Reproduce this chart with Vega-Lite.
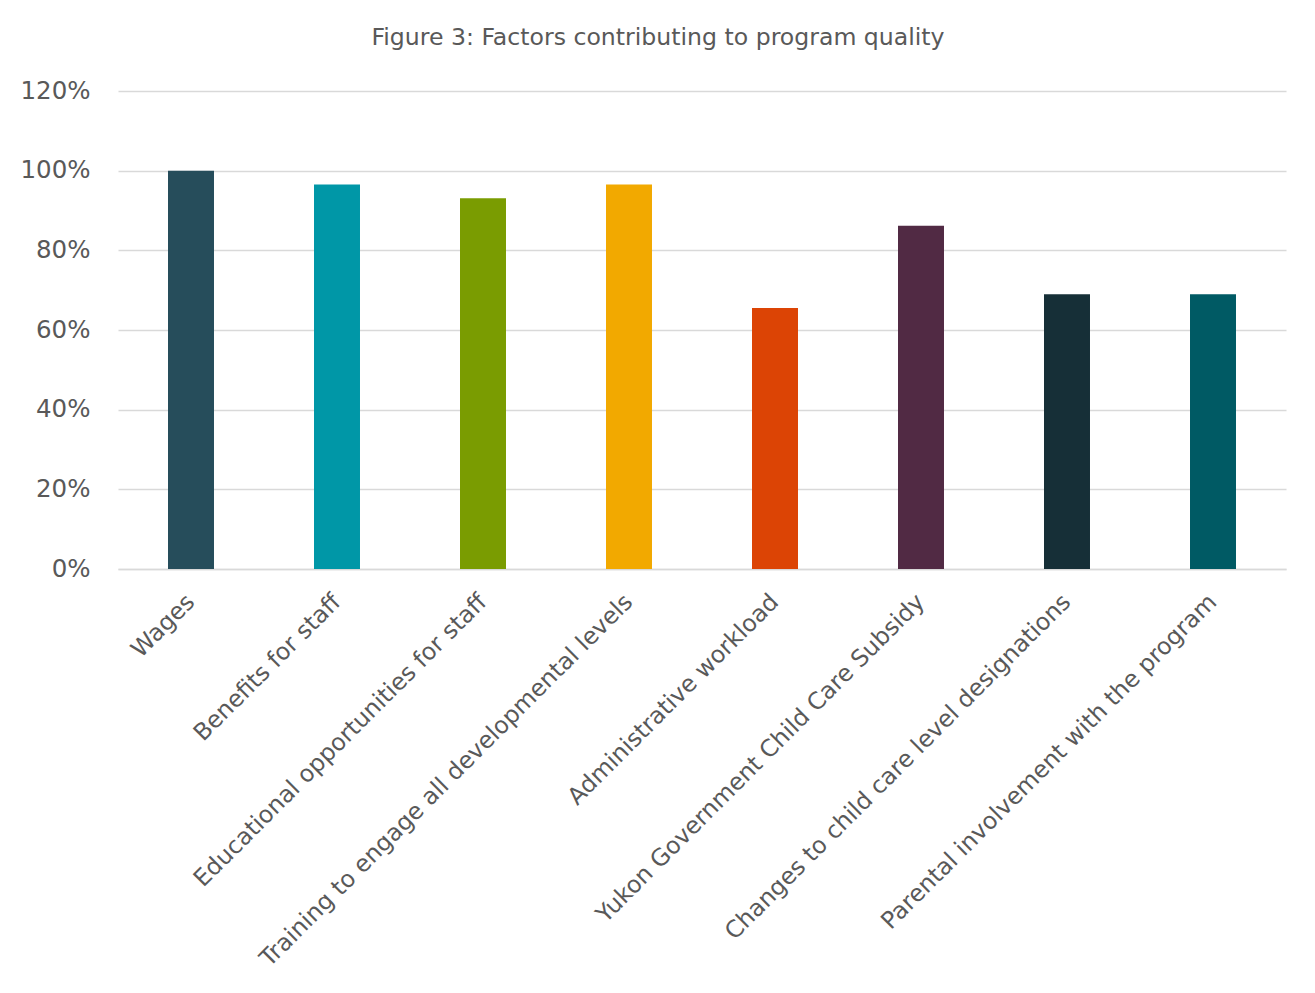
{
  "$schema": "https://vega.github.io/schema/vega-lite/v6.json",
  "width": 1168,
  "height": 478,
  "autosize": {"type": "none"},
  "padding": {"left": 118, "top": 91, "right": 29, "bottom": 424},
  "background": "white",
  "title": {
    "text": "Figure 3: Factors contributing to program quality",
    "anchor": "middle",
    "frame": "group",
    "dx": -44,
    "offset": 28,
    "font": "DejaVu Sans",
    "fontSize": 23.6,
    "fontWeight": "normal",
    "color": "#595959"
  },
  "data": {
    "values": [
      {"factor": "Wages", "share": 1.0},
      {"factor": "Benefits for staff", "share": 0.9655},
      {"factor": "Educational opportunities for staff", "share": 0.931},
      {"factor": "Training to engage all developmental levels", "share": 0.9655},
      {"factor": "Administrative workload", "share": 0.655},
      {"factor": "Yukon Government Child Care Subsidy", "share": 0.862},
      {"factor": "Changes to child care level designations", "share": 0.69},
      {"factor": "Parental involvement with the program", "share": 0.69}
    ]
  },
  "mark": {"type": "bar"},
  "encoding": {
    "x": {
      "field": "factor",
      "type": "nominal",
      "sort": null,
      "scale": {"paddingInner": 0.685, "paddingOuter": 0.3425},
      "axis": {
        "title": null,
        "labelAngle": -45,
        "labelAlign": "right",
        "labelBaseline": "middle",
        "labelFont": "DejaVu Sans",
        "labelFontSize": 23.6,
        "labelColor": "#595959",
        "labelPadding": 29,
        "labelLimit": 0,
        "ticks": false,
        "domain": true,
        "domainColor": "#D9D9D9",
        "domainWidth": 1.5
      }
    },
    "y": {
      "field": "share",
      "type": "quantitative",
      "scale": {"domain": [0, 1.2]},
      "axis": {
        "title": null,
        "values": [0, 0.2, 0.4, 0.6, 0.8, 1.0, 1.2],
        "format": ".0%",
        "labelFont": "DejaVu Sans",
        "labelFontSize": 24.5,
        "labelColor": "#595959",
        "labelPadding": 28,
        "ticks": false,
        "domain": false,
        "grid": true,
        "gridColor": "#D9D9D9",
        "gridWidth": 1.5
      }
    },
    "color": {
      "field": "factor",
      "type": "nominal",
      "sort": null,
      "legend": null,
      "scale": {
        "domain": ["Wages", "Benefits for staff", "Educational opportunities for staff", "Training to engage all developmental levels", "Administrative workload", "Yukon Government Child Care Subsidy", "Changes to child care level designations", "Parental involvement with the program"],
        "range": ["#264D5B", "#0097A7", "#7A9C01", "#F2A900", "#DC4405", "#512A44", "#162F37", "#005A64"]
      }
    }
  },
  "config": {"view": {"stroke": null}}
}
